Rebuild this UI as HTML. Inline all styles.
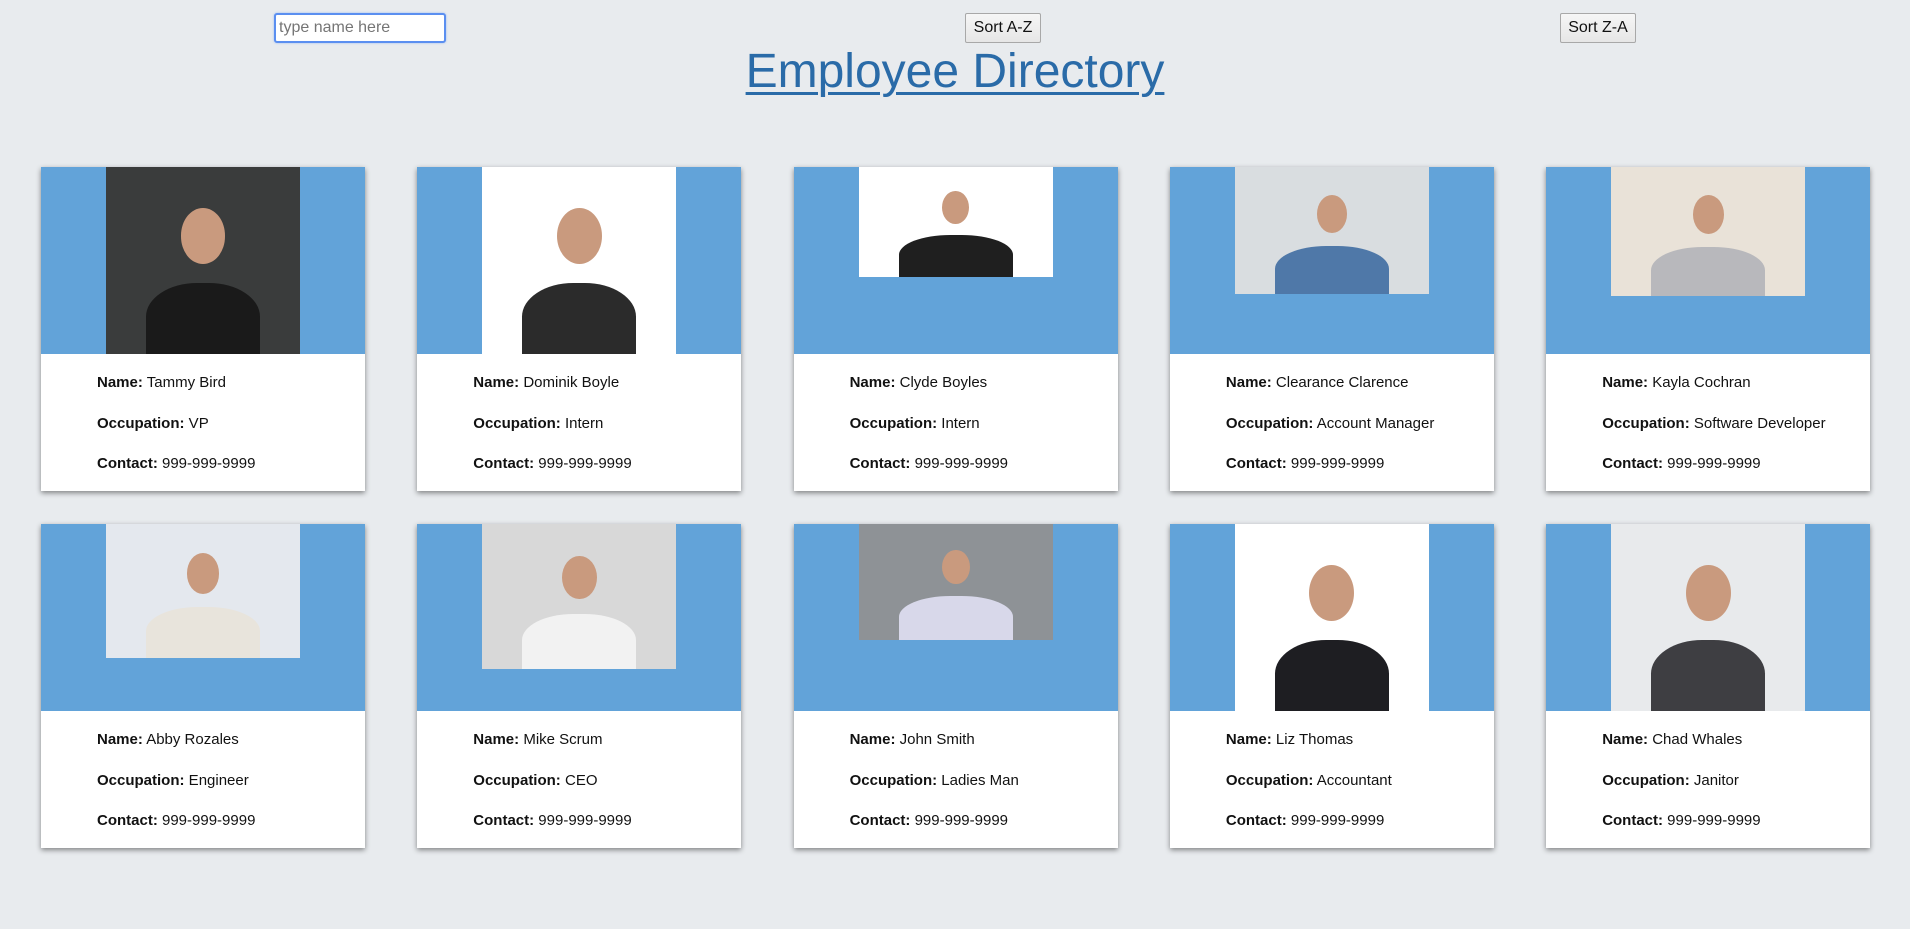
<!DOCTYPE html>
<html><head><meta charset="utf-8"><style>
html,body{margin:0;padding:0;width:1910px;height:929px;background:#e8ebee;font-family:"Liberation Sans",Arial,sans-serif;overflow:hidden;position:relative}
#search{position:absolute;left:274px;top:13px;width:162px;height:26px;border:2px solid #5b8ff0;border-radius:3px;background:#fff;font-size:16px;padding:0 3px;box-shadow:0 0 2px #9bbcf5;font-family:"Liberation Sans",sans-serif;color:#555;box-sizing:content-box;outline:none}
.btn{position:absolute;top:13px;height:30px;width:76px;border:1px solid #a8a8a8;background:linear-gradient(#f6f6f6,#e6e6e6);font-size:16px;color:#111;font-family:"Liberation Sans",sans-serif;padding:0;border-radius:2px}
h1{position:absolute;left:0;width:1910px;top:44px;margin:0;text-align:center;font-weight:normal;font-size:48px;line-height:56px;color:#2a6ba8;text-decoration:underline;text-decoration-thickness:3px;text-underline-offset:5px}
.card{position:absolute;width:324px;height:324px;background:#fff;box-shadow:0 2px 5px rgba(0,0,0,.45)}
.top{position:absolute;left:0;top:0;width:324px;height:187px;background:#62a3d9}
.photo{position:absolute;left:65px;top:0;width:194px;overflow:hidden}
.head{position:absolute;border-radius:50%;background:#c99a7e}
.body{position:absolute;border-radius:45% 45% 0 0;background:#222}
.info{position:absolute;left:56px;top:206px;font-size:15px;color:#111;line-height:20px}
.info p{margin:0 0 20.5px 0}
.info b{font-weight:bold}
</style></head><body>
<input id="search" placeholder="type name here">
<button class="btn" style="left:965px">Sort A-Z</button>
<button class="btn" style="left:1560px">Sort Z-A</button>
<h1>Employee Directory</h1>
<div id="grid"></div>
<script>
const names=["Tammy Bird","Dominik Boyle","Clyde Boyles","Clearance Clarence","Kayla Cochran","Abby Rozales","Mike Scrum","John Smith","Liz Thomas","Chad Whales"];
const jobs=["VP","Intern","Intern","Account Manager","Software Developer","Engineer","CEO","Ladies Man","Accountant","Janitor"];
const photoH=[187,187,110,127,129,134,145,116,187,187];
const photoBg=["#3a3c3c","#ffffff","#ffffff","#d9dde0","#e9e2d8","#e4e8ee","#d8d8d8","#8e9296","#ffffff","#e8eaec"];
const suit=["#1a1a1a","#2b2b2b","#1f1f1f","#4f78a8","#b8b8bc","#e8e4dc","#f2f2f2","#d8d8ea","#1e1e22","#3e3e42"];
const grid=document.getElementById('grid');
for(let i=0;i<10;i++){
  const c=document.createElement('div');
  c.className='card';
  
  
  c.style.left=(41+(i%5)*376.3)+'px';
  c.style.top=(167+Math.floor(i/5)*357)+'px';
  const t=document.createElement('div');t.className='top';
  const p=document.createElement('div');p.className='photo';
  
  
  const h=photoH[i];p.style.height=h+'px';p.style.background=photoBg[i];
  const b=document.createElement('div');b.className='body';
  b.style.left='40px';b.style.width='114px';b.style.top=(h*0.62)+'px';b.style.height=(h*0.4)+'px';b.style.background=suit[i];
  const hd=document.createElement('div');hd.className='head';
  const hs=h*0.3;hd.style.width=hs*0.8+'px';hd.style.height=hs+'px';hd.style.left=(97-hs*0.4)+'px';hd.style.top=(h*0.22)+'px';
  p.appendChild(b);p.appendChild(hd);t.appendChild(p);c.appendChild(t);
  const inf=document.createElement('div');inf.className='info';
  inf.innerHTML='<p><b>Name:</b> '+names[i]+'</p><p><b>Occupation:</b> '+jobs[i]+'</p><p><b>Contact:</b> 999-999-9999</p>';
  c.appendChild(inf);grid.appendChild(c);
}
</script>
</body></html>
